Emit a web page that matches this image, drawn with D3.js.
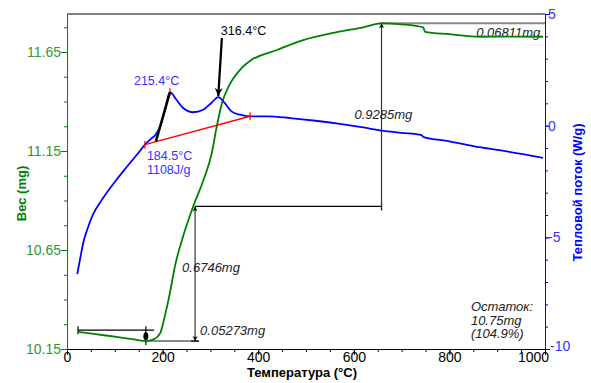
<!DOCTYPE html>
<html>
<head>
<meta charset="utf-8">
<script src="https://cdn.jsdelivr.net/npm/d3@7"></script>
<style>
  body { margin: 0; background: #fff; }
  svg { font-family: "Liberation Sans", Arial, sans-serif; }
</style>
</head>
<body>
<div id="chart"></div>
<script>
// TG curve (weight, mg) vs temperature
const tgTemp = [23, 60, 100, 140, 165, 180, 195, 205, 215, 226, 243, 264, 285, 303, 313, 324, 338, 362, 383, 439, 494, 564, 620, 658, 700, 745, 749, 800, 864, 930, 996];
const tgMass = [10.237, 10.225, 10.212, 10.199, 10.19, 10.197, 10.23, 10.32, 10.43, 10.57, 10.72, 10.87, 11.0, 11.14, 11.27, 11.39, 11.475, 11.56, 11.605, 11.66, 11.71, 11.75, 11.775, 11.795, 11.79, 11.775, 11.752, 11.74, 11.727, 11.728, 11.727];

// DSC curve (heat flow, W/g) vs temperature
const dscTemp = [21.5, 28, 34, 40, 45, 55, 69, 85, 104, 120, 135, 150, 163, 175, 184, 195, 205, 215.4, 229, 243, 264, 285, 303, 316.4, 330, 344, 362, 383, 420, 467, 520, 571, 620, 658, 700, 742, 745, 800, 850, 920, 996];
const dscFlow = [-6.65, -5.9, -5.24, -4.8, -4.49, -3.95, -3.45, -2.95, -2.41, -1.98, -1.59, -1.2, -0.85, -0.6, -0.44, -0.03, 0.71, 1.5, 1.16, 0.79, 0.6, 0.71, 1.04, 1.28, 1.01, 0.64, 0.49, 0.42, 0.42, 0.34, 0.22, 0.08, -0.08, -0.22, -0.32, -0.42, -0.5, -0.7, -0.92, -1.15, -1.44];

// axis ticks
const xTicks = [0, 200, 400, 600, 800, 1000];
const massTicks = [10.15, 10.65, 11.15, 11.65];
const flowTicks = [-10, -5, 0, 5];

// annotations (data coordinates)
const massSteps = [
  { t: 165, from: 10.245, to: 10.19, label: "0.05273mg" },
  { t: 268, from: 10.87, to: 10.19, label: "0.6746mg" },
  { t: 658, from: 10.87, to: 11.795, label: "0.9285mg" }
];
const residue = ["Остаток:", "10.75mg", "(104.9%)"];
const peakBaseline = [[184.5, -0.66], [163, -0.85], [383, 0.42]];
const onsetTangent = [[186, -0.7], [215.4, 1.5]];
const peakLabels = [
  { t: 215.4, h: 1.5, text: "215.4°C" },
  { t: 316.4, h: 1.28, text: "316.4°C" }
];
const onsetLabel = ["184.5°C", "1108J/g"];

const width = 591, height = 383;
const margin = { top: 14, right: 46, bottom: 34, left: 67 };

const svg = d3.select("#chart").append("svg")
  .attr("width", width)
  .attr("height", height);

const x = d3.scaleLinear().domain([0, 1000]).range([margin.left, width - margin.right]);
const yMass = d3.scaleLinear().domain([10.15, 11.842]).range([height - margin.bottom, margin.top]);
const yFlow = d3.scaleLinear().domain([-10, 5]).range([height - margin.bottom, margin.top]);

const green = "#008000", greenText = "#2f9a2f";
const blue = "#0000ff", blueText = "#3333ff";

const defs = svg.append("defs");
defs.append("marker")
  .attr("id", "arrow")
  .attr("viewBox", "0 0 10 10")
  .attr("refX", 10).attr("refY", 5)
  .attr("markerWidth", 5).attr("markerHeight", 6)
  .attr("markerUnits", "userSpaceOnUse")
  .attr("orient", "auto-start-reverse")
  .append("path")
  .attr("d", "M0,0 L10,5 L0,10 L3,5 Z")
  .attr("fill", "#000");
defs.append("marker")
  .attr("id", "arrowBig")
  .attr("viewBox", "0 0 10 10")
  .attr("refX", 10).attr("refY", 5)
  .attr("markerWidth", 8).attr("markerHeight", 8)
  .attr("markerUnits", "userSpaceOnUse")
  .attr("orient", "auto")
  .append("path")
  .attr("d", "M0,0 L10,5 L0,10 L3,5 Z")
  .attr("fill", "#000");

// frame top
svg.append("line")
  .attr("x1", x(0)).attr("x2", x(1000))
  .attr("y1", margin.top).attr("y2", margin.top)
  .attr("stroke", "#000");

// axes
const axisStyle = (g, color, textColor) => {
  g.selectAll("path, line").attr("stroke", color);
  g.selectAll("text").attr("fill", textColor).attr("font-size", 14);
};

svg.append("g")
  .attr("transform", `translate(0,${height - margin.bottom})`)
  .call(d3.axisBottom(x).tickValues(d3.range(0, 1001, 50)).tickSize(3).tickFormat("").tickSizeOuter(0))
  .call(g => axisStyle(g, "#000", "#000"));
svg.append("g")
  .attr("transform", `translate(0,${height - margin.bottom})`)
  .call(d3.axisBottom(x).tickValues(xTicks).tickFormat(d3.format("d")).tickSize(6).tickPadding(-3).tickSizeOuter(0))
  .call(g => axisStyle(g, "#000", "#000"))
  .call(g => g.select(".tick:last-of-type text").attr("dx", -12));

svg.append("g")
  .attr("transform", `translate(${margin.left},0)`)
  .call(d3.axisLeft(yMass).tickValues(d3.range(10.15, 11.84, 0.125)).tickSize(3).tickFormat("").tickSizeOuter(0))
  .call(g => axisStyle(g, green, greenText));
svg.append("g")
  .attr("transform", `translate(${margin.left},0)`)
  .call(d3.axisLeft(yMass).tickValues(massTicks).tickFormat(d3.format(".2f")).tickSize(6).tickPadding(0).tickSizeOuter(0))
  .call(g => axisStyle(g, green, greenText));

svg.append("g")
  .attr("transform", `translate(${width - margin.right},0)`)
  .call(d3.axisRight(yFlow).tickValues(d3.range(-10, 5.1, 1)).tickSize(3).tickFormat("").tickSizeOuter(0))
  .call(g => axisStyle(g, blue, blueText));
svg.append("g")
  .attr("transform", `translate(${width - margin.right},0)`)
  .call(d3.axisRight(yFlow).tickValues(flowTicks).tickFormat(d => String(d)).tickSize(5).tickPadding(-2).tickSizeOuter(0))
  .call(g => axisStyle(g, blue, blueText))
  .call(g => g.select(".tick:first-of-type text").attr("dy", "0.1em").attr("dx", 2));

// axis titles
svg.append("text")
  .attr("x", x(500) - 4).attr("y", height - 6)
  .attr("text-anchor", "middle")
  .attr("font-size", 13).attr("font-weight", "bold")
  .text("Температура (°C)");
svg.append("text")
  .attr("transform", `translate(26,${(margin.top + height - margin.bottom) / 2 + 12}) rotate(-90)`)
  .attr("text-anchor", "middle")
  .attr("font-size", 13).attr("font-weight", "bold")
  .attr("fill", green)
  .text("Вес (mg)");
svg.append("text")
  .attr("transform", `translate(582,${(margin.top + height - margin.bottom) / 2 + 11}) rotate(-90)`)
  .attr("text-anchor", "middle")
  .attr("font-size", 13).attr("font-weight", "bold")
  .attr("fill", blue)
  .text("Тепловой поток (W/g)");

// mass step annotations
const ann = svg.append("g").attr("stroke-width", 1.2);
// first step
const s0 = massSteps[0], s1 = massSteps[1], s2 = massSteps[2];
ann.append("line")
  .attr("x1", x(23)).attr("x2", x(182))
  .attr("y1", yMass(s0.from)).attr("y2", yMass(s0.from))
  .attr("stroke", "#000");
ann.append("line")
  .attr("x1", x(23)).attr("x2", x(23))
  .attr("y1", yMass(s0.from) - 4).attr("y2", yMass(s0.from) + 4)
  .attr("stroke", "#000");
ann.append("line")
  .attr("x1", x(s0.t)).attr("x2", x(s0.t))
  .attr("y1", yMass(s0.from) - 4).attr("y2", yMass(s0.to) + 4)
  .attr("stroke", "#000");
ann.append("ellipse")
  .attr("cx", x(s0.t)).attr("cy", (yMass(s0.from) + yMass(s0.to)) / 2 + 0.5)
  .attr("rx", 2.5).attr("ry", 4)
  .attr("fill", "#000");
ann.append("line")
  .attr("x1", x(s0.t)).attr("x2", x(275))
  .attr("y1", yMass(s0.to)).attr("y2", yMass(s0.to))
  .attr("stroke", "#666").attr("stroke-width", 1.5);
ann.append("text")
  .attr("x", x(s1.t) + 5).attr("y", yMass(s0.from) + 5)
  .attr("font-size", 13).attr("font-style", "italic").attr("fill", "#222")
  .text(s0.label);

// second step
ann.append("line")
  .attr("x1", x(s1.t)).attr("x2", x(s1.t))
  .attr("y1", yMass(s1.from)).attr("y2", yMass(s1.to))
  .attr("stroke", "#333")
  .attr("marker-start", "url(#arrow)")
  .attr("marker-end", "url(#arrow)");
ann.append("line")
  .attr("x1", x(s1.t) - 4).attr("x2", x(s1.t) + 4)
  .attr("y1", yMass(s1.to)).attr("y2", yMass(s1.to))
  .attr("stroke", "#000");
ann.append("line")
  .attr("x1", x(s1.t)).attr("x2", x(s2.t))
  .attr("y1", yMass(s1.from)).attr("y2", yMass(s1.from))
  .attr("stroke", "#000");
ann.append("line")
  .attr("x1", x(s2.t)).attr("x2", x(s2.t))
  .attr("y1", yMass(s2.from) - 4).attr("y2", yMass(s2.from) + 4)
  .attr("stroke", "#000");
ann.append("text")
  .attr("x", x(s1.t) - 13).attr("y", yMass(10.54))
  .attr("font-size", 13).attr("font-style", "italic").attr("fill", "#222")
  .text(s1.label);

// third step
ann.append("line")
  .attr("x1", x(s2.t)).attr("x2", x(s2.t))
  .attr("y1", yMass(s2.from)).attr("y2", yMass(s2.to))
  .attr("stroke", "#333")
  .attr("marker-end", "url(#arrow)");
ann.append("line")
  .attr("x1", x(s2.t) - 3).attr("x2", x(s2.t) + 3)
  .attr("y1", yMass(s2.to)).attr("y2", yMass(s2.to))
  .attr("stroke", "#000");
ann.append("line")
  .attr("x1", x(s2.t)).attr("x2", x(1000))
  .attr("y1", yMass(s2.to)).attr("y2", yMass(s2.to))
  .attr("stroke", "#888").attr("stroke-width", 2);
ann.append("text")
  .attr("x", x(s2.t) - 27).attr("y", yMass(11.35) + 8)
  .attr("font-size", 13).attr("font-style", "italic").attr("fill", "#222")
  .text(s2.label);
ann.append("text")
  .attr("x", x(990)).attr("y", yMass(11.795) + 14)
  .attr("text-anchor", "end")
  .attr("font-size", 13).attr("font-style", "italic").attr("fill", "#222")
  .text("0.06811mg");

// residue
svg.append("text")
  .attr("x", x(845)).attr("y", yMass(10.34))
  .attr("font-size", 13).attr("font-style", "italic").attr("fill", "#222")
  .selectAll("tspan")
  .data(residue)
  .join("tspan")
  .attr("x", x(845))
  .attr("dy", (d, i) => i ? 13.5 : 0)
  .text(d => d);

// curves
const tgData = tgTemp.map((t, i) => [t, tgMass[i]]);
const dscData = dscTemp.map((t, i) => [t, dscFlow[i]]);

svg.append("path")
  .datum(tgData)
  .attr("fill", "none").attr("stroke", green).attr("stroke-width", 1.8)
  .attr("d", d3.line().x(d => x(d[0])).y(d => yMass(d[1])).curve(d3.curveMonotoneX));

svg.append("path")
  .datum(dscData)
  .attr("fill", "none").attr("stroke", blue).attr("stroke-width", 1.8)
  .attr("d", d3.line().x(d => x(d[0])).y(d => yFlow(d[1])).curve(d3.curveMonotoneX));

// DSC peak integration
svg.append("line")
  .attr("x1", x(peakBaseline[1][0])).attr("y1", yFlow(peakBaseline[1][1]))
  .attr("x2", x(peakBaseline[2][0])).attr("y2", yFlow(peakBaseline[2][1]))
  .attr("stroke", "#ff0000").attr("stroke-width", 1.5);
svg.selectAll(".rtick")
  .data([peakBaseline[1], peakBaseline[2], [peakLabels[0].t, peakLabels[0].h]])
  .join("line")
  .attr("x1", d => x(d[0])).attr("x2", d => x(d[0]))
  .attr("y1", d => yFlow(d[1]) - 4).attr("y2", d => yFlow(d[1]) + 4)
  .attr("stroke", "#ff0000").attr("stroke-width", 1.2);

svg.append("line")
  .attr("x1", x(onsetTangent[0][0])).attr("y1", yFlow(onsetTangent[0][1]))
  .attr("x2", x(onsetTangent[1][0])).attr("y2", yFlow(onsetTangent[1][1]))
  .attr("stroke", "#000").attr("stroke-width", 2.5);

svg.append("text")
  .attr("x", x(peakLabels[0].t) - 36).attr("y", yFlow(peakLabels[0].h) - 7)
  .attr("font-size", 12.5).attr("fill", blueText)
  .text(peakLabels[0].text);
svg.append("text")
  .attr("x", x(163) + 2).attr("y", yFlow(-0.85) + 15)
  .attr("font-size", 12.5).attr("fill", blueText)
  .selectAll("tspan")
  .data(onsetLabel)
  .join("tspan")
  .attr("x", x(163) + 2)
  .attr("dy", (d, i) => i ? 14 : 0)
  .text(d => d);

// 316.4 arrow
svg.append("line")
  .attr("x1", x(324)).attr("y1", yFlow(3.93))
  .attr("x2", x(peakLabels[1].t)).attr("y2", yFlow(peakLabels[1].h) - 1)
  .attr("stroke", "#000").attr("stroke-width", 2.2)
  .attr("marker-end", "url(#arrowBig)");
svg.append("text")
  .attr("x", x(324) - 1).attr("y", yFlow(3.93) - 3)
  .attr("font-size", 12.5).attr("fill", "#000")
  .text(peakLabels[1].text);
</script>
</body>
</html>
